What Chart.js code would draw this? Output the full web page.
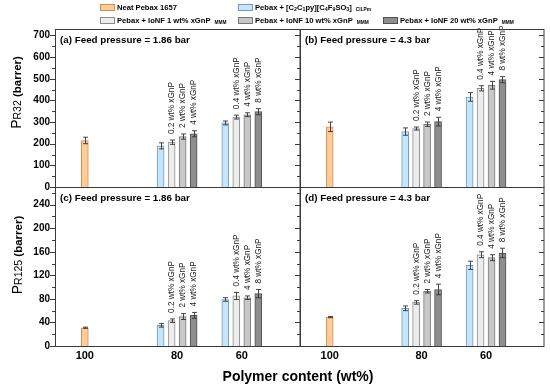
<!DOCTYPE html>
<html><head><meta charset="utf-8">
<script src="https://cdn.jsdelivr.net/npm/chart.js@4.4.0/dist/chart.umd.min.js"></script>
<style>
html,body{margin:0;padding:0;background:#fff;}
#wrap{position:relative;width:550px;height:390px;overflow:hidden;}
canvas{position:absolute;left:0;top:0;pointer-events:none;}
</style></head><body>
<div id="wrap">
<canvas id="ca" width="550" height="390"></canvas>
<canvas id="cb" width="550" height="390"></canvas>
<canvas id="cc" width="550" height="390"></canvas>
<canvas id="cd" width="550" height="390"></canvas>
</div>
<script>
// ---------------- DATA ----------------
const categories = ['100', '80', '60'];
const seriesNames = [
  'Neat Pebax 1657',
  'Pebax + [C_{2}C_{1}py][C_{4}F_{9}SO_{3}]',
  'Pebax + IoNF 1 wt% xGnP',
  'Pebax + IoNF 10 wt% xGnP',
  'Pebax + IoNF 20 wt% xGnP'
];
const seriesSuffix = ['', 'CILPm', 'MMM', 'MMM', 'MMM'];
const xgnpLabels80 = ['0.2 wt% xGnP', '2 wt% xGnP', '4 wt% xGnP'];
const xgnpLabels60 = ['0.4 wt% xGnP', '4 wt% xGnP', '8 wt% xGnP'];
const panelTitles = ['(a) Feed pressure = 1.86 bar', '(b) Feed pressure = 4.3 bar',
                     '(c) Feed pressure = 1.86 bar', '(d) Feed pressure = 4.3 bar'];
const r32Ticks = [0, 100, 200, 300, 400, 500, 600, 700];
const r125Ticks = [0, 40, 80, 120, 160, 200, 240];
const xTitle = 'Polymer content (wt%)';

// values per series: [neat@100], [CIL@80, CIL@60], [1wt@80, 1wt@60], [10wt@80,10wt@60], [20wt@80,20wt@60]
const valuesA = [[215], [190, 296], [207, 323], [233, 334], [246, 348]];
const errorsA = [[15], [14, 9], [10, 9], [12, 9], [14, 14]];
const valuesB = [[278], [256, 416], [270, 456], [290, 470], [302, 496]];
const errorsB = [[22], [17, 20], [7, 12], [10, 18], [20, 14]];
const valuesC = [[31], [35, 79], [43, 85], [50, 82], [52, 89]];
const errorsC = [[1], [3, 3], [3, 6], [5, 3], [5, 7]];
const valuesD = [[49], [64, 137], [74, 155], [93, 150], [96, 158]];
const errorsD = [[1], [4, 7], [3, 5], [3, 5], [9, 8]];

// ---------------- STYLE / LAYOUT ----------------
const FONT = '"Liberation Sans", Arial, Helvetica, sans-serif';
const seriesStyle = [
  {fill: '#FFCC99', border: '#D09050'},
  {fill: '#C7E5FA', border: '#6E9CC2'},
  {fill: '#EDEDED', border: '#8C8C8C'},
  {fill: '#C8C8C8', border: '#777777'},
  {fill: '#8E8E8E', border: '#505050'}
];
const groupX = [2.71, 11.1, 16.98];
const xMax = 22.27;
const frameColor = '#3a3a3a';

function drawRich(ctx, x, y, str, size, weight, subScale, subShift) {
  const parts = str.split(/(_\{[^}]*\})/);
  for (const p of parts) {
    if (!p) continue;
    const sub = p.startsWith('_{');
    const t = sub ? p.slice(2, -1) : p;
    ctx.font = weight + ' ' + (sub ? size * subScale : size) + 'px ' + FONT;
    ctx.fillText(t, x, y + (sub ? subShift : 0));
    x += ctx.measureText(t).width;
  }
  return x;
}

function drawSegments(ctx, segs, measureOnly) {
  let x = 0;
  for (const s of segs) {
    ctx.font = s.w + ' ' + s.size + 'px ' + FONT;
    if (!measureOnly) ctx.fillText(s.t, x, 0);
    x += ctx.measureText(s.t).width;
  }
  return x;
}

const panelPlugin = {
  id: 'panelDeco',
  afterDatasetsDraw(chart, args, o) {
    const ctx = chart.ctx;
    const ca = chart.chartArea;
    const ys = chart.scales.y;
    ctx.save();
    // error bars
    ctx.strokeStyle = '#333';
    ctx.lineWidth = 0.9;
    chart.data.datasets.forEach((ds, di) => {
      const meta = chart.getDatasetMeta(di);
      meta.data.forEach((bar, i) => {
        const v = ds.data[i].y, e = o.errors[di][i];
        const yT = ys.getPixelForValue(v + e), yB = ys.getPixelForValue(v - e);
        const x = Math.round(bar.x) + 0.5;
        ctx.beginPath();
        ctx.moveTo(x, yT); ctx.lineTo(x, yB);
        ctx.moveTo(x - 2.5, yT); ctx.lineTo(x + 2.5, yT);
        ctx.moveTo(x - 2.5, yB); ctx.lineTo(x + 2.5, yB);
        ctx.stroke();
        // rotated labels for xGnP series
        if (di >= 2) {
          const txt = (i === 0 ? xgnpLabels80 : xgnpLabels60)[di - 2];
          ctx.save();
          ctx.translate(bar.x, yT - 6);
          ctx.rotate(-Math.PI / 2);
          ctx.fillStyle = '#1a1a1a';
          ctx.font = '8.2px ' + FONT;
          ctx.textAlign = 'left';
          ctx.textBaseline = 'middle';
          ctx.fillText(txt, 0, 0.5);
          ctx.restore();
        }
      });
    });
    // frame
    ctx.strokeStyle = frameColor;
    ctx.lineWidth = 1;
    ctx.strokeRect(Math.round(ca.left) + 0.5, Math.round(ca.top) + 0.5,
                   Math.round(ca.right - ca.left) - 0.5, Math.round(ca.bottom - ca.top));
    // ticks
    ctx.beginPath();
    const drawTick = (val, len) => {
      const y = Math.round(ys.getPixelForValue(val)) + 0.5;
      ctx.moveTo(ca.left - len, y); ctx.lineTo(ca.left, y);
      if (!o.showY) { ctx.moveTo(ca.right - len, y); ctx.lineTo(ca.right, y); }
    };
    o.ticks.forEach(v => drawTick(v, 5));
    for (let v = o.minor; v < ys.max; v += o.minor) {
      if (!o.ticks.includes(v)) drawTick(v, 3);
    }
    ctx.stroke();
    // title
    ctx.fillStyle = '#000';
    ctx.font = 'bold 9.8px ' + FONT;
    ctx.textAlign = 'left';
    ctx.textBaseline = 'middle';
    ctx.fillText(o.title, ca.left + 5, ca.top + 11.5);

    if (o.globals) {
      // legend
      const pos = [[100, 4], [238, 4], [100, 17], [238, 17], [383, 17]];
      seriesNames.forEach((name, i) => {
        const [bx, by] = pos[i];
        ctx.fillStyle = seriesStyle[i].fill;
        ctx.fillRect(bx, by, 15, 7);
        ctx.strokeStyle = seriesStyle[i].border;
        ctx.lineWidth = 1;
        ctx.strokeRect(bx + 0.5, by + 0.5, 14, 6);
        ctx.fillStyle = '#000';
        ctx.textAlign = 'left';
        ctx.textBaseline = 'middle';
        let x = drawRich(ctx, bx + 17, by + 3.7, name, 7.6, 'bold', 0.7, 1.8);
        if (seriesSuffix[i]) {
          ctx.font = 'bold 4.8px ' + FONT;
          ctx.fillText(seriesSuffix[i], x + 4, by + 6);
        }
      });
      // y titles
      const yTitles = [
        {cx: 21, cy: 92.5, segs: [{t: 'P', size: 14, w: 'normal'}, {t: 'R32', size: 10.5, w: 'normal'}, {t: ' (barrer)', size: 11.5, w: 'bold'}]},
        {cx: 22, cy: 255, segs: [{t: 'P', size: 14, w: 'normal'}, {t: 'R125', size: 10.5, w: 'normal'}, {t: ' (barrer)', size: 11.5, w: 'bold'}]}
      ];
      ctx.textBaseline = 'alphabetic';
      yTitles.forEach(tt => {
        const w = drawSegments(ctx, tt.segs, true);
        ctx.save();
        ctx.translate(tt.cx, tt.cy + w / 2);
        ctx.rotate(-Math.PI / 2);
        drawSegments(ctx, tt.segs, false);
        ctx.restore();
      });
      // x title
      ctx.font = 'bold 14px ' + FONT;
      ctx.textAlign = 'center';
      ctx.fillText(xTitle, 298, 381);
    }
    ctx.restore();
  }
};

function buildDatasets(values) {
  return values.map((arr, s) => ({
    label: seriesNames[s],
    data: arr.map((v, i) => ({
      x: s === 0 ? groupX[0] : groupX[i + 1] + (s - 1 - 1.5),
      y: v
    })),
    backgroundColor: seriesStyle[s].fill,
    borderColor: seriesStyle[s].border,
    borderWidth: 1,
    borderSkipped: 'bottom',
    barThickness: 7,
    grouped: false
  }));
}

const panels = [
  {id: 'ca', area: {l: 55, r: 300, t: 29, b: 187}, values: valuesA, errors: errorsA, yMax: 730, ticks: r32Ticks, minor: 50, showY: true, showX: false, title: panelTitles[0], globals: true},
  {id: 'cb', area: {l: 300, r: 544, t: 29, b: 187}, values: valuesB, errors: errorsB, yMax: 730, ticks: r32Ticks, minor: 50, showY: false, showX: false, title: panelTitles[1]},
  {id: 'cc', area: {l: 55, r: 300, t: 187, b: 346}, values: valuesC, errors: errorsC, yMax: 270, ticks: r125Ticks, minor: 20, showY: true, showX: true, title: panelTitles[2]},
  {id: 'cd', area: {l: 300, r: 544, t: 187, b: 346}, values: valuesD, errors: errorsD, yMax: 270, ticks: r125Ticks, minor: 20, showY: false, showX: true, title: panelTitles[3]}
];

const yW = 40, xH = 30;
panels.forEach(p => {
  const a = p.area;
  const xScale = {
    type: 'linear', min: 0, max: xMax, offset: false, display: p.showX,
    grid: {display: false, drawTicks: false}, border: {display: false},
    afterBuildTicks: s => { s.ticks = groupX.map(v => ({value: v})); },
    ticks: {padding: 3, color: '#000', autoSkip: false, maxRotation: 0,
            font: {family: FONT, size: 11, weight: 'bold'},
            callback: (v, i) => categories[i]}
  };
  if (p.showX) xScale.afterFit = s => { s.height = xH; };
  const yScale = {
    type: 'linear', min: 0, max: p.yMax, display: p.showY,
    grid: {display: false, drawTicks: false}, border: {display: false},
    afterBuildTicks: s => { s.ticks = p.ticks.map(v => ({value: v})); },
    ticks: {padding: 5, color: '#000', font: {family: FONT, size: 10, weight: 'bold'},
            callback: v => String(v)}
  };
  if (p.showY) yScale.afterFit = s => { s.width = yW; };
  new Chart(document.getElementById(p.id), {
    type: 'bar',
    data: {datasets: buildDatasets(p.values)},
    options: {
      responsive: false, animation: false, devicePixelRatio: 1,
      layout: {padding: {
        left: a.l - (p.showY ? yW : 0),
        right: 550 - a.r,
        top: a.t,
        bottom: 390 - a.b - (p.showX ? xH : 0)
      }},
      plugins: {legend: {display: false}, tooltip: {enabled: false},
        panelDeco: {errors: p.errors, ticks: p.ticks, minor: p.minor, showY: p.showY, title: p.title, globals: !!p.globals}},
      scales: {x: xScale, y: yScale}
    },
    plugins: [panelPlugin]
  });
});
</script>
</body></html>
